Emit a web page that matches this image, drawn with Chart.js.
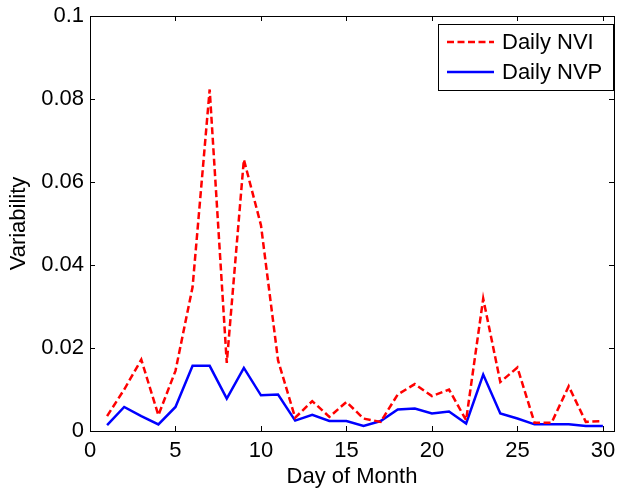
<!DOCTYPE html>
<html>
<head>
<meta charset="utf-8">
<script src="https://cdn.jsdelivr.net/npm/chart.js@4/dist/chart.umd.min.js"></script>
<style>
  html, body { margin: 0; padding: 0; background: #fff; }
  #wrap { width: 618px; height: 488px; }
</style>
</head>
<body>
<div id="wrap"><canvas id="chart" width="618" height="488"></canvas></div>
<script>
  const days = [1, 2, 3, 4, 5, 6, 7, 8, 9, 10, 11, 12, 13, 14, 15, 16, 17, 18, 19, 20,
    21, 22, 23, 24, 25, 26, 27, 28, 29, 30];
  const dailyNVI = [0.0036, 0.0100, 0.0172, 0.0038, 0.0145, 0.0347, 0.0823, 0.0164, 0.0654, 0.0496,
    0.0170, 0.0032, 0.0072, 0.0034, 0.0070, 0.0030, 0.0022, 0.0088, 0.0113, 0.0084,
    0.0100, 0.0026, 0.0319, 0.0118, 0.0153, 0.0020, 0.0020, 0.0108, 0.0022, 0.0024];
  const dailyNVP = [0.0014, 0.0058, 0.0036, 0.0016, 0.0058, 0.0157, 0.0157, 0.0078, 0.0152, 0.0086,
    0.0088, 0.0025, 0.0039, 0.0024, 0.0024, 0.0012, 0.0024, 0.0052, 0.0054, 0.0042,
    0.0047, 0.0018, 0.0136, 0.0042, 0.0030, 0.0016, 0.0016, 0.0016, 0.0012, 0.0012];
  const xTicks = [0, 5, 10, 15, 20, 25, 30];
  const yTicks = [0, 0.02, 0.04, 0.06, 0.08, 0.1];

  const FONT = 'Arial, "Liberation Sans", sans-serif';

  const toPoints = (vals) => days.map((d, i) => ({ x: d, y: vals[i] }));

  // box + inward ticks on all four sides, matlab style
  const matlabAxes = {
    id: 'matlabAxes',
    afterDatasetsDraw(chart) {
      const { ctx, chartArea: a, scales } = chart;
      const len = 5;
      ctx.save();
      ctx.strokeStyle = '#000';
      ctx.lineWidth = 1;
      ctx.beginPath();
      scales.x.ticks.forEach((t) => {
        const px = Math.round(scales.x.getPixelForValue(t.value)) + 0.5;
        ctx.moveTo(px, a.bottom); ctx.lineTo(px, a.bottom - len);
        ctx.moveTo(px, a.top); ctx.lineTo(px, a.top + len);
      });
      scales.y.ticks.forEach((t) => {
        const py = Math.round(scales.y.getPixelForValue(t.value)) + 0.5;
        ctx.moveTo(a.left, py); ctx.lineTo(a.left + len, py);
        ctx.moveTo(a.right, py); ctx.lineTo(a.right - len, py);
      });
      ctx.stroke();
      ctx.strokeRect(Math.round(a.left) + 0.5, Math.round(a.top) + 0.5,
        Math.round(a.right - a.left), Math.round(a.bottom - a.top));
      ctx.restore();
    }
  };

  // legend box in the upper right corner
  const boxLegend = {
    id: 'boxLegend',
    afterDraw(chart) {
      const { ctx } = chart;
      const x0 = 438, y0 = 24, w = 175, h = 66;
      ctx.save();
      ctx.fillStyle = '#fff';
      ctx.fillRect(x0, y0, w, h);
      ctx.strokeStyle = '#000';
      ctx.lineWidth = 1;
      ctx.strokeRect(x0 + 0.5, y0 + 0.5, w, h);
      ctx.font = '22px ' + FONT;
      ctx.textBaseline = 'middle';
      chart.data.datasets.forEach((ds, i) => {
        const y = y0 + 18 + i * 30;
        ctx.strokeStyle = ds.borderColor;
        ctx.lineWidth = ds.borderWidth;
        ctx.setLineDash(ds.borderDash || []);
        ctx.beginPath();
        ctx.moveTo(x0 + 9, y);
        ctx.lineTo(x0 + 56, y);
        ctx.stroke();
        ctx.setLineDash([]);
        ctx.fillStyle = '#000';
        ctx.fillText(ds.label, x0 + 64, y + 1);
      });
      ctx.restore();
    }
  };

  new Chart(document.getElementById('chart'), {
    type: 'line',
    data: {
      datasets: [
        {
          label: 'Daily NVI',
          data: toPoints(dailyNVI),
          borderColor: '#ff0000',
          borderWidth: 2.5,
          borderDash: [7, 3.5],
          pointRadius: 0,
          tension: 0,
          fill: false
        },
        {
          label: 'Daily NVP',
          data: toPoints(dailyNVP),
          borderColor: '#0000ff',
          borderWidth: 2.5,
          pointRadius: 0,
          tension: 0,
          fill: false
        }
      ]
    },
    options: {
      responsive: false,
      animation: false,
      layout: { padding: { top: 16, right: 4, left: 0, bottom: 0 } },
      scales: {
        x: {
          type: 'linear',
          min: 0,
          max: 30.65,
          afterFit: (s) => { s.height = 57; s.paddingLeft = 0; s.paddingRight = 0; },
          afterBuildTicks: (s) => { s.ticks = xTicks.map((v) => ({ value: v })); },
          grid: { display: false, drawTicks: false },
          border: { display: false },
          ticks: {
            color: '#000',
            font: { family: FONT, size: 22 },
            padding: 7,
            maxRotation: 0,
            callback: (v) => String(v)
          },
          title: {
            display: true,
            text: 'Day of Month',
            color: '#000',
            font: { family: FONT, size: 22, lineHeight: 1 },
            padding: { top: 0, bottom: 0 }
          }
        },
        y: {
          min: 0,
          max: 0.1,
          afterFit: (s) => { s.width = 90; s.paddingTop = 0; s.paddingBottom = 0; },
          afterBuildTicks: (s) => { s.ticks = yTicks.map((v) => ({ value: v })); },
          grid: { display: false, drawTicks: false },
          border: { display: false },
          ticks: {
            color: '#000',
            font: { family: FONT, size: 22 },
            padding: 6,
            callback: (v) => String(+v.toFixed(2))
          },
          title: {
            display: true,
            text: 'Variability',
            color: '#000',
            font: { family: FONT, size: 22, lineHeight: 1 },
            padding: { top: 8, bottom: 0 }
          }
        }
      },
      plugins: {
        legend: { display: false },
        tooltip: { enabled: false }
      }
    },
    plugins: [matlabAxes, boxLegend]
  });
</script>
</body>
</html>
